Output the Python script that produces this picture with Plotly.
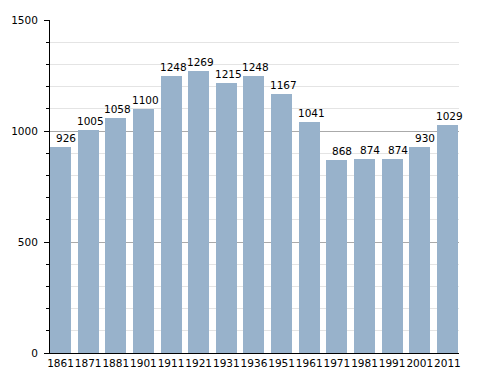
import plotly.graph_objects as go

years = ["1861", "1871", "1881", "1901", "1911", "1921", "1931", "1936",
         "1951", "1961", "1971", "1981", "1991", "2001", "2011"]
population = [926, 1005, 1058, 1100, 1248, 1269, 1215, 1248,
              1167, 1041, 868, 874, 874, 930, 1029]

pos = list(range(len(years)))
bar_color = "#98b2cb"

fig = go.Figure()
fig.add_trace(go.Bar(x=pos, y=population, width=0.76,
                     marker=dict(color=bar_color, line=dict(width=0)),
                     hoverinfo="skip"))

for i, v in zip(pos, population):
    fig.add_annotation(x=i, y=v, text=str(v), showarrow=False,
                       xanchor="right", yanchor="bottom", xshift=17.5, yshift=1,
                       font=dict(size=10.5, color="black"))

# page body has an 8px margin: figure is 480x365 so it fills the 488x373 window
fig.update_layout(
    width=480, height=365,
    margin=dict(l=42, r=29, t=12, b=20, autoexpand=False),
    paper_bgcolor="white", plot_bgcolor="white",
    showlegend=False,
    font=dict(family="DejaVu Sans", size=10.5, color="black"),
    bargap=0,
)
fig.update_xaxes(range=[-0.38, 14.42], tickmode="array", tickvals=pos, ticktext=years,
                 tickangle=0,
                 showline=True, linecolor="black", linewidth=1, showgrid=False,
                 ticks="", zeroline=False, tickfont=dict(size=10.5), automargin=False)
fig.update_yaxes(range=[0, 1500], tickmode="linear", tick0=0, dtick=500,
                 showline=True, linecolor="black", linewidth=1,
                 ticks="outside", ticklen=5, tickcolor="black",
                 gridcolor="#aaaaaa", gridwidth=1, zeroline=False,
                 minor=dict(dtick=100, ticks="outside", ticklen=3, tickcolor="black",
                            showgrid=True, gridcolor="#e4e4e4", gridwidth=1),
                 tickfont=dict(size=10.5), ticklabelstandoff=4, automargin=False)

fig.write_html("out.html")
